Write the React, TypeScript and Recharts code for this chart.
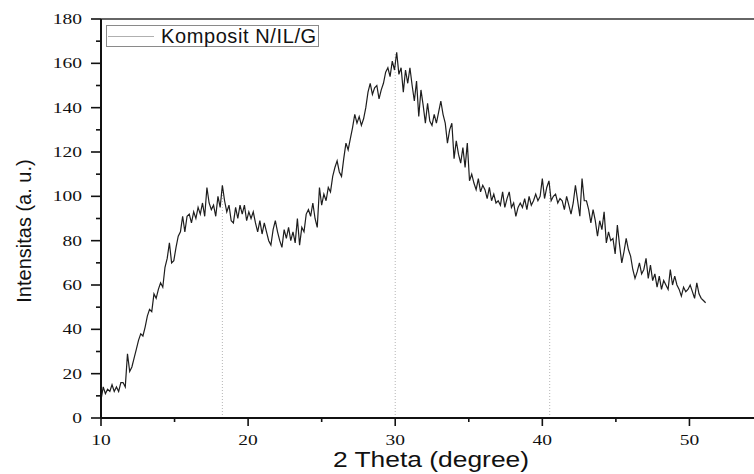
import { LineChart, Line, XAxis, YAxis, ReferenceLine, Legend } from 'recharts'

// 2θ scan positions (degree)
const angles = [
  10, 10.15, 10.3, 10.45, 10.6, 10.75, 10.9, 11.05, 11.2, 11.35,
  11.5, 11.65, 11.8, 11.95, 12.1, 12.25, 12.4, 12.55, 12.7, 12.85,
  13, 13.15, 13.3, 13.45, 13.6, 13.75, 13.9, 14.05, 14.2, 14.35,
  14.5, 14.65, 14.8, 14.95, 15.1, 15.25, 15.4, 15.55, 15.7, 15.85,
  16, 16.15, 16.3, 16.45, 16.6, 16.75, 16.9, 17.05, 17.2, 17.35,
  17.5, 17.65, 17.8, 17.95, 18.1, 18.25, 18.4, 18.55, 18.7, 18.85,
  19, 19.15, 19.3, 19.45, 19.6, 19.75, 19.9, 20.05, 20.2, 20.35,
  20.5, 20.65, 20.8, 20.95, 21.1, 21.25, 21.4, 21.55, 21.7, 21.85,
  22, 22.15, 22.3, 22.45, 22.6, 22.75, 22.9, 23.05, 23.2, 23.35,
  23.5, 23.65, 23.8, 23.95, 24.1, 24.25, 24.4, 24.55, 24.7, 24.85,
  25, 25.15, 25.3, 25.45, 25.6, 25.75, 25.9, 26.05, 26.2, 26.35,
  26.5, 26.65, 26.8, 26.95, 27.1, 27.25, 27.4, 27.55, 27.7, 27.85,
  28, 28.15, 28.3, 28.45, 28.6, 28.75, 28.9, 29.05, 29.2, 29.35,
  29.5, 29.65, 29.8, 29.95, 30.1, 30.25, 30.4, 30.55, 30.7, 30.85,
  31, 31.15, 31.3, 31.45, 31.6, 31.75, 31.9, 32.05, 32.2, 32.35,
  32.5, 32.65, 32.8, 32.95, 33.1, 33.25, 33.4, 33.55, 33.7, 33.85,
  34, 34.15, 34.3, 34.45, 34.6, 34.75, 34.9, 35.05, 35.2, 35.35,
  35.5, 35.65, 35.8, 35.95, 36.1, 36.25, 36.4, 36.55, 36.7, 36.85,
  37, 37.15, 37.3, 37.45, 37.6, 37.75, 37.9, 38.05, 38.2, 38.35,
  38.5, 38.65, 38.8, 38.95, 39.1, 39.25, 39.4, 39.55, 39.7, 39.85,
  40, 40.15, 40.3, 40.45, 40.6, 40.75, 40.9, 41.05, 41.2, 41.35,
  41.5, 41.65, 41.8, 41.95, 42.1, 42.25, 42.4, 42.55, 42.7, 42.85,
  43, 43.15, 43.3, 43.45, 43.6, 43.75, 43.9, 44.05, 44.2, 44.35,
  44.5, 44.65, 44.8, 44.95, 45.1, 45.25, 45.4, 45.55, 45.7, 45.85,
  46, 46.15, 46.3, 46.45, 46.6, 46.75, 46.9, 47.05, 47.2, 47.35,
  47.5, 47.65, 47.8, 47.95, 48.1, 48.25, 48.4, 48.55, 48.7, 48.85,
  49, 49.15, 49.3, 49.45, 49.6, 49.75, 49.9, 50.05, 50.2, 50.35,
  50.5, 50.65, 50.8, 50.95, 51.1,
]

// intensity (a. u.) at each angle
const counts = [
  8, 14, 11, 13, 12, 15, 12, 14, 12, 16,
  16, 14, 29, 21, 23, 27, 31, 35, 38, 37,
  41, 46, 49, 48, 56, 54, 58, 61, 59, 68,
  72, 79, 70, 71, 77, 82, 84, 91, 84, 91,
  92, 88, 93, 90, 95, 92, 97, 91, 104, 97,
  94, 96, 91, 100, 95, 105, 98, 93, 96, 89,
  88, 95, 90, 96, 92, 96, 89, 93, 90, 93,
  88, 84, 89, 83, 88, 84, 80, 78, 85, 89,
  84, 80, 77, 85, 81, 86, 80, 84, 79, 90,
  78, 86, 84, 92, 94, 91, 97, 90, 86, 104,
  96, 101, 98, 104, 102, 109, 113, 116, 111, 109,
  117, 124, 121, 126, 131, 137, 133, 136, 132, 135,
  140, 147, 151, 146, 149, 150, 144, 148, 151, 156,
  158, 154, 161, 157, 165, 155, 158, 147, 157, 151,
  158, 150, 143, 152, 136, 148, 141, 133, 142, 134,
  132, 137, 133, 138, 143, 137, 133, 124, 130, 133,
  117, 125, 119, 115, 122, 113, 124, 107, 110, 106,
  103, 108, 102, 105, 103, 99, 104, 98, 101, 97,
  98, 96, 102, 95, 99, 102, 95, 97, 91, 95,
  97, 95, 99, 94, 100, 96, 98, 101, 98, 100,
  108, 99, 104, 107, 98, 100, 101, 97, 99, 98,
  94, 100, 96, 92, 97, 105, 98, 91, 108, 98,
  98, 94, 88, 94, 89, 82, 89, 85, 93, 79,
  84, 80, 81, 74, 87, 78, 70, 75, 81, 76,
  73, 67, 63, 66, 70, 65, 67, 72, 63, 69,
  62, 65, 59, 64, 58, 62, 60, 58, 67, 60,
  64, 60, 58, 55, 59, 57, 58, 60, 57, 54,
  61, 56, 54, 53, 52,
]

// dotted drop lines under the main reflections
const peakAngles = [18.25, 30.0, 40.5]
const peakHeights = [105, 165, 107]

const xTicks = [10, 15, 20, 25, 30, 35, 40, 45, 50, 55]
const yTicks = [0, 10, 20, 30, 40, 50, 60, 70, 80, 90, 100, 110, 120, 130, 140, 150, 160, 170, 180]
const seriesName = 'Komposit N/IL/G'

const data = angles.map((angle, i) => ({ angle, intensity: counts[i] }))

const tickFont = '"Liberation Serif", "Times New Roman", serif'
const labelFont = '"Liberation Sans", Arial, sans-serif'

function XTick({ x, y, payload }: any) {
  const major = payload.value % 10 === 0
  return (
    <g>
      <line x1={x} y1={y} x2={x} y2={y + (major ? 8 : 4)} stroke="#111" strokeWidth={1.6} />
      {major && (
        <g transform={`translate(${x} ${y + 27}) scale(1.3 1)`}>
          <text x={0} y={0} textAnchor="middle" fontFamily={tickFont} fontSize={15} fill="#111">
            {payload.value}
          </text>
        </g>
      )}
    </g>
  )
}

function YTick({ x, y, payload }: any) {
  const major = payload.value % 20 === 0
  return (
    <g>
      <line x1={x - (major ? 10 : 5)} y1={y} x2={x} y2={y} stroke="#111" strokeWidth={1.6} />
      {major && (
        <g transform={`translate(${x - 19} ${y + 5}) scale(1.3 1)`}>
          <text x={0} y={0} textAnchor="end" fontFamily={tickFont} fontSize={15} fill="#111">
            {payload.value}
          </text>
        </g>
      )}
    </g>
  )
}

function LegendBox() {
  return (
    <div
      style={{
        width: 211,
        height: 20,
        border: '1px solid #8a8a8a',
        background: '#fff',
        display: 'flex',
        alignItems: 'center',
        boxSizing: 'content-box',
      }}
    >
      <div style={{ width: 46, height: 1, background: '#b0b0b0', marginLeft: 1 }} />
      <span
        style={{
          marginLeft: 7,
          fontFamily: labelFont,
          fontSize: 20,
          letterSpacing: 0.6,
          color: '#111',
          lineHeight: '20px',
          whiteSpace: 'nowrap',
        }}
      >
        {seriesName}
      </span>
    </div>
  )
}

export default function App() {
  return (
    <div style={{ width: 754, height: 474, overflow: 'hidden', position: 'relative', background: '#fff' }}>
      <style>{'html,body{margin:0;overflow:hidden;background:#fff}'}</style>
      <LineChart width={763} height={474} data={data} margin={{ top: 19, right: 0, bottom: 0, left: 0 }}>
        <XAxis
          dataKey="angle"
          type="number"
          domain={[10, 55]}
          ticks={xTicks}
          interval={0}
          height={56}
          tickSize={0}
          tickMargin={0}
          tickLine={false}
          tick={<XTick />}
          axisLine={{ stroke: '#111', strokeWidth: 2 }}
          label={{
            content: () => (
              <g transform="translate(431 467) scale(1.2 1)">
                <text x={0} y={0} textAnchor="middle" fontFamily={labelFont} fontSize={22} fill="#111">
                  2 Theta (degree)
                </text>
              </g>
            ),
          }}
        />
        <YAxis
          type="number"
          domain={[0, 180]}
          ticks={yTicks}
          interval={0}
          width={101}
          tickSize={0}
          tickMargin={0}
          tickLine={false}
          tick={<YTick />}
          axisLine={{ stroke: '#111', strokeWidth: 2 }}
          label={{
            content: () => (
              <text
                x={24}
                y={231}
                transform="rotate(-90 24 231)"
                textAnchor="middle"
                dominantBaseline="central"
                fontFamily={labelFont}
                fontSize={20}
                fill="#111"
              >
                Intensitas (a. u.)
              </text>
            ),
          }}
        />
        <ReferenceLine y={180} stroke="#333" strokeWidth={1.5} />
        {peakAngles.map((a, i) => (
          <ReferenceLine
            key={a}
            segment={[
              { x: a, y: 0 },
              { x: a, y: peakHeights[i] },
            ]}
            stroke="#b5b5b5"
            strokeDasharray="1 2"
          />
        ))}
        <Line
          dataKey="intensity"
          name={seriesName}
          type="linear"
          stroke="#1e1e1e"
          strokeWidth={1.2}
          dot={false}
          isAnimationActive={false}
        />
        <Legend
          layout="horizontal"
          verticalAlign="middle"
          align="center"
          content={() => <LegendBox />}
          wrapperStyle={{ position: 'absolute', left: 106, top: 25, width: 'auto', height: 'auto' }}
        />
      </LineChart>
    </div>
  )
}
